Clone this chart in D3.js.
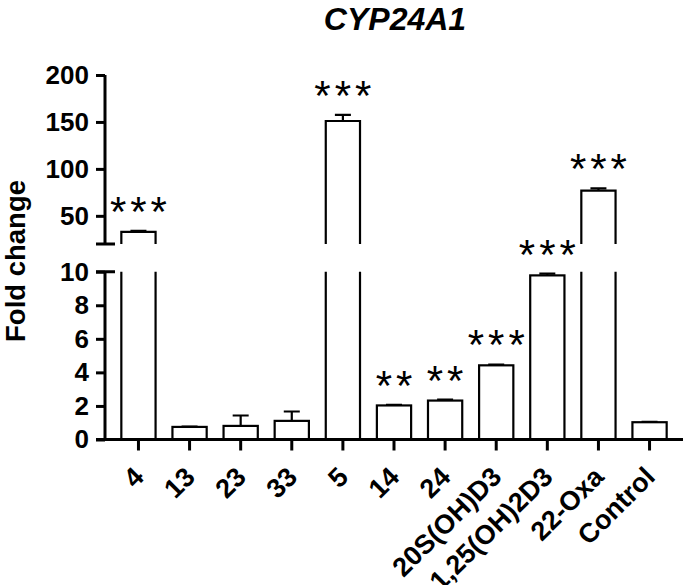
<!DOCTYPE html>
<html>
<head>
<meta charset="utf-8">
<script src="https://cdn.jsdelivr.net/npm/d3@7"></script>
<style>
  body { margin: 0; background: #fff; }
  svg { display: block; font-family: "Liberation Sans", Arial, sans-serif; }
</style>
</head>
<body>
<div id="chart"></div>
<script>
const categories = ["4", "13", "23", "33", "5", "14", "24", "20S(OH)D3", "1,25(OH)2D3", "22-Oxa", "Control"];
const means = [33, 0.75, 0.81, 1.11, 151, 2.03, 2.32, 4.42, 9.78, 76.8, 1.03];
const errors = [1, 0.02, 0.62, 0.56, 6.5, 0.03, 0.06, 0.05, 0.1, 2.4, 0.02];
const stars = ["***", "", "", "", "***", "**", "**", "***", "***", "***", ""];
const upperTicks = [50, 100, 150, 200];
const lowerTicks = [0, 2, 4, 6, 8, 10];

const width = 685, height = 585;
const axisX = 105;
const breakVal = 10, upperMin = 20, upperMax = 200;

const svg = d3.select("#chart").append("svg")
  .attr("width", width)
  .attr("height", height);

const x = d3.scaleBand()
  .domain(categories)
  .range([106, 682])
  .paddingInner(0.33)
  .paddingOuter(0.3);

const yLow = d3.scaleLinear().domain([0, breakVal]).range([439.5, 271.7]);
const yUp = d3.scaleLinear().domain([upperMin, upperMax]).range([244, 75]);

// title
svg.append("text")
  .attr("x", 395)
  .attr("y", 30)
  .attr("text-anchor", "middle")
  .attr("font-size", "32px")
  .attr("font-weight", "bold")
  .attr("font-style", "italic")
  .text("CYP24A1");

// y axis title
svg.append("text")
  .attr("transform", `translate(25,261) rotate(-90)`)
  .attr("text-anchor", "middle")
  .attr("font-size", "27.5px")
  .attr("font-weight", "bold")
  .text("Fold change");

const bars = svg.append("g");
const data = categories.map((c, i) => ({ c, v: means[i], e: errors[i], s: stars[i] }));

// bar top y for a given value
const yOf = (v) => (v <= breakVal ? yLow(v) : yUp(v));

data.forEach((d) => {
  const x0 = x(d.c), x1 = x(d.c) + x.bandwidth();
  if (d.v <= breakVal) {
    bars.append("rect")
      .attr("x", x0).attr("y", yLow(d.v))
      .attr("width", x1 - x0).attr("height", yLow(0) - yLow(d.v))
      .attr("fill", "#fff").attr("stroke", "#000").attr("stroke-width", 2.2);
  } else {
    bars.append("path")
      .attr("d", `M${x0},${yLow(breakVal)}V${yLow(0)}H${x1}V${yLow(breakVal)}`)
      .attr("fill", "#fff").attr("stroke", "#000").attr("stroke-width", 2.2);
    bars.append("path")
      .attr("d", `M${x0},${yUp(upperMin)}V${yUp(d.v)}H${x1}V${yUp(upperMin)}`)
      .attr("fill", "#fff").attr("stroke", "#000").attr("stroke-width", 2.2);
  }
  // error bar (upper only)
  const cx = x0 + x.bandwidth() / 2;
  const top = yOf(d.v + d.e);
  bars.append("path")
    .attr("d", `M${cx},${yOf(d.v)}V${top}M${cx - 8},${top}H${cx + 8}`)
    .attr("fill", "none").attr("stroke", "#000").attr("stroke-width", 2.2);
  if (d.s) {
    bars.append("text")
      .attr("x", cx + 2)
      .attr("y", top - 5)
      .attr("text-anchor", "middle")
      .attr("font-size", "42px")
      .attr("letter-spacing", "4px")
      .text(d.s);
  }
});

// y axes
const upperAxis = svg.append("g")
  .attr("transform", `translate(${axisX},0)`)
  .call(d3.axisLeft(yUp).tickValues(upperTicks).tickSize(9).tickPadding(7));
const lowerAxis = svg.append("g")
  .attr("transform", `translate(${axisX},0)`)
  .call(d3.axisLeft(yLow).tickValues(lowerTicks).tickSize(9).tickPadding(7));

[upperAxis, lowerAxis].forEach((g) => {
  g.select(".domain").remove();
  g.selectAll("line").attr("stroke", "#000").attr("stroke-width", 3);
  g.selectAll("text")
    .attr("font-size", "26px")
    .attr("font-weight", "bold")
    .attr("font-family", "Liberation Sans, Arial, sans-serif")
    .attr("fill", "#000");
});

// axis spines with break caps
svg.append("path")
  .attr("d", `M${axisX},${yUp(upperMax)}V${yUp(upperMin)}M${axisX - 9},${yUp(upperMin)}H${axisX + 10}`)
  .attr("fill", "none").attr("stroke", "#000").attr("stroke-width", 3);
svg.append("path")
  .attr("d", `M${axisX},${yLow(breakVal)}V${yLow(0)}M${axisX - 9},${yLow(breakVal)}H${axisX + 10}`)
  .attr("fill", "none").attr("stroke", "#000").attr("stroke-width", 3);

// x axis
const xAxis = svg.append("g")
  .attr("transform", `translate(0,${yLow(0)})`)
  .call(d3.axisBottom(x).tickSize(11).tickPadding(4));
xAxis.select(".domain")
  .attr("d", `M${axisX - 9},0H683`)
  .attr("stroke", "#000").attr("stroke-width", 3);
xAxis.selectAll("line").attr("stroke", "#000").attr("stroke-width", 3);
xAxis.selectAll("text")
  .attr("font-size", "27px")
  .attr("font-weight", "bold")
  .attr("font-family", "Liberation Sans, Arial, sans-serif")
  .attr("fill", "#000")
  .attr("text-anchor", "end")
  .attr("dy", null)
  .attr("y", null)
  .attr("transform", "translate(7,39) rotate(-45)");
</script>
</body>
</html>
